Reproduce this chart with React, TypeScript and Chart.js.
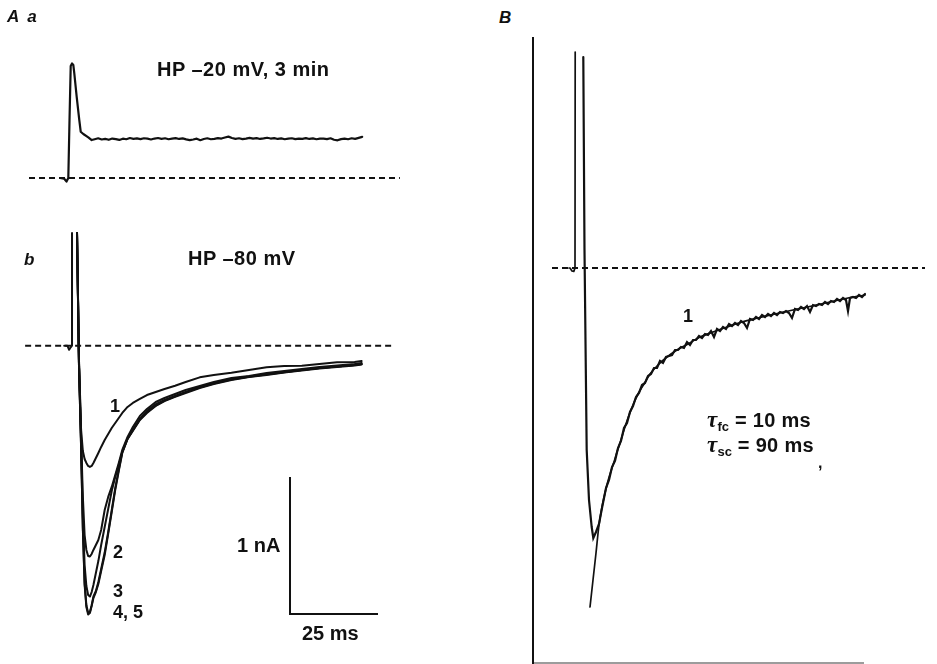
import React, { useEffect, useRef } from 'react';
import { Chart, registerables } from 'chart.js';

Chart.register(...registerables);

// ---------- Panel A a : HP -20 mV, 3 min (time ms, current nA) ----------
const aaTime = [
  -0.85, 0.28, 1.0, 1.51, 1.85, 2.19, 2.56, 2.93, 3.21, 3.89, 4.63, 5.03, 5.77, 7.19, 8.15,
  9, 10, 11, 12, 13, 14, 15, 16, 17, 18, 19, 20, 21, 22, 23, 24, 25, 26, 27, 28, 29, 30,
  31, 32, 33, 34, 35, 36, 37, 38, 39, 40, 41, 42, 43, 44, 45, 46, 47, 48, 49, 50,
  51, 52, 53, 54, 55, 56, 57, 58, 59, 60, 61, 62, 63, 64, 65, 66, 67, 68, 69, 70,
  71, 72, 73, 74, 75, 76, 77, 78, 79, 80, 81, 82, 83, 84, 85,
];
const aaCurrent = [
  0, -0.004, -0.026, 0, 0.423, 0.818, 0.836, 0.825, 0.764, 0.593, 0.423, 0.338, 0.321, 0.297, 0.277,
  0.283, 0.29, 0.281, 0.286, 0.279, 0.288, 0.284, 0.278, 0.287, 0.283, 0.292, 0.286, 0.289, 0.284, 0.29, 0.287, 0.281, 0.288, 0.292, 0.286, 0.29, 0.283,
  0.287, 0.291, 0.285, 0.289, 0.282, 0.276, 0.281, 0.287, 0.276, 0.285, 0.29, 0.283, 0.286, 0.291, 0.288, 0.296, 0.302, 0.292, 0.286, 0.29,
  0.284, 0.288, 0.293, 0.287, 0.291, 0.285, 0.289, 0.294, 0.288, 0.291, 0.285, 0.289, 0.283, 0.287, 0.29, 0.284, 0.288, 0.286, 0.291, 0.285,
  0.289, 0.283, 0.287, 0.287, 0.284, 0.29, 0.279, 0.275, 0.284, 0.288, 0.283, 0.29, 0.286, 0.293, 0.3,
];
const aaBaselineTime = [-9.66, 95.7];
const aaBaselineCurrent = [0, 0];

// ---------- Panel A b : HP -80 mV, traces 1-5 ----------
const abArtifactTime = [-2.5, -1.6, -1.1, -0.6, -0.28, -0.28];
const abArtifactCurrent = [0, 0, -0.03, -0.01, 0, 0.823];
const abTime = [
  1.14, 1.7, 2.3, 2.8, 3.3, 3.8, 4.3, 4.8, 5.3, 5.8, 6.5, 7.2, 8, 9, 10, 11, 12, 13, 14,
  15.5, 17, 19, 21, 23.5, 26, 29, 32, 36, 40, 45, 50, 55, 60, 65, 70, 75, 80, 82,
];
const abTrace1 = [
  0.823, -0.104, -0.615, -0.769, -0.827, -0.856, -0.878, -0.885, -0.878, -0.856, -0.82, -0.783, -0.739, -0.688, -0.645, -0.601, -0.564, -0.528, -0.491,
  -0.447, -0.418, -0.389, -0.36, -0.338, -0.316, -0.292, -0.265, -0.231, -0.214, -0.198, -0.177, -0.158, -0.148, -0.146, -0.134, -0.121, -0.119, -0.112,
];
const abTrace2 = [
  0.823, -0.119, -0.666, -1.104, -1.382, -1.491, -1.535, -1.539, -1.52, -1.491, -1.455, -1.418, -1.345, -1.199, -1.104, -1.031, -0.944, -0.856, -0.761,
  -0.666, -0.593, -0.513, -0.462, -0.411, -0.382, -0.353, -0.323, -0.294, -0.265, -0.236, -0.221, -0.199, -0.185, -0.17, -0.155, -0.145, -0.134, -0.126,
];
const abTrace3 = [
  0.823, -0.134, -0.703, -1.236, -1.601, -1.754, -1.82, -1.831, -1.798, -1.747, -1.659, -1.572, -1.455, -1.323, -1.192, -1.061, -0.958, -0.871, -0.776,
  -0.681, -0.615, -0.535, -0.477, -0.426, -0.396, -0.367, -0.338, -0.301, -0.272, -0.243, -0.225, -0.207, -0.192, -0.177, -0.163, -0.152, -0.141, -0.134,
];
const abTrace4 = [
  0.823, -0.148, -0.739, -1.345, -1.747, -1.907, -1.962, -1.951, -1.9, -1.842, -1.798, -1.739, -1.645, -1.528, -1.374, -1.214, -1.053, -0.915, -0.783,
  -0.681, -0.623, -0.542, -0.491, -0.44, -0.404, -0.374, -0.345, -0.309, -0.28, -0.25, -0.228, -0.214, -0.196, -0.181, -0.166, -0.155, -0.145, -0.137,
];
const abTrace5 = [
  0.823, -0.15, -0.745, -1.33, -1.73, -1.895, -1.95, -1.944, -1.895, -1.83, -1.79, -1.725, -1.63, -1.51, -1.36, -1.2, -1.04, -0.905, -0.775,
  -0.676, -0.616, -0.538, -0.486, -0.437, -0.401, -0.369, -0.341, -0.305, -0.276, -0.247, -0.226, -0.21, -0.193, -0.178, -0.163, -0.151, -0.141, -0.133,
];
const abBaselineTime = [-13.6, 91.5];
const abBaselineCurrent = [0, 0];
// scale bar: 1 nA, 25 ms
const scaleBarTime = [61.65, 61.65, 86.65];
const scaleBarCurrent = [-0.958, -1.958, -1.958];

// ---------- Panel B : trace 1 with two-exponential fit ----------
const bArtifactTime = [-3, -2.5, -1.5, -0.6, 0, 0.1];
const bArtifactCurrent = [0, 0, -0.03, -0.035, 0, 2.16];
const bRawTime = [
  4.15, 4.75, 5.85, 7, 8.35, 9.15, 10.5, 12, 13.5,
  15.5, 17, 18.5, 20, 21.5, 23, 24.5, 26, 27.5, 29, 30.5, 32, 33.5, 35, 36.5, 38, 39.5, 41, 42.5, 44,
  45.5, 47, 48.5, 50, 51.5, 53, 54.5, 56, 57.5, 59, 60.5, 62, 63.5, 65, 66.5, 68, 69.5, 71, 72.5, 74,
  75.5, 77, 78.5, 80, 81.5, 83, 84.5, 86, 87.5, 89, 90.5, 92, 93.5, 95, 96.5, 98, 99.5, 101, 102.5, 104,
  105.5, 107, 108.5, 110, 111.5, 113, 114.5, 116, 117.5, 119, 120.5, 122, 123.5, 125, 126.5, 128, 129.5, 131, 132.5, 134,
  135.5, 136.5, 137.5, 139, 140.5, 142, 143.5, 145, 146.5, 148, 149.5, 150.5, 151,
];
const bRawCurrent = [
  2.11, 0.18, -1.82, -2.32, -2.59, -2.7, -2.64, -2.56, -2.4,
  -2.2, -2.12, -1.99, -1.93, -1.8, -1.73, -1.6, -1.55, -1.44, -1.38, -1.29, -1.25, -1.17, -1.15, -1.08, -1.06, -1.0, -1.0, -0.93, -0.95,
  -0.89, -0.88, -0.87, -0.82, -0.82, -0.79, -0.8, -0.74, -0.77, -0.72, -0.72, -0.68, -0.7, -0.66, -0.67, -0.63, -0.69, -0.61, -0.63, -0.59,
  -0.61, -0.56, -0.58, -0.55, -0.57, -0.53, -0.55, -0.6, -0.51, -0.52, -0.49, -0.51, -0.47, -0.49, -0.46, -0.48, -0.45, -0.47, -0.44, -0.45,
  -0.43, -0.45, -0.5, -0.41, -0.42, -0.39, -0.41, -0.38, -0.44, -0.37, -0.38, -0.36, -0.37, -0.34, -0.36, -0.33, -0.34, -0.31, -0.33, -0.3,
  -0.32, -0.43, -0.3, -0.29, -0.3, -0.27, -0.29, -0.26, -0.28, -0.25, -0.26, -0.17, -0.24,
];
const bFitTime = [
  7.5, 9, 10.5, 12, 13.5, 15, 16.5, 18, 19.5, 21, 22.5, 24.5, 26.5, 29, 31.5, 34.5, 37.5,
  41.5, 46, 51, 56.5, 62.5, 69, 76, 83.5, 91.5, 100, 109, 118.5, 127.5, 136.5, 145, 151,
];
const bFitCurrent = [
  -3.39, -3.12, -2.85, -2.57, -2.39, -2.25, -2.13, -2.03, -1.94, -1.84, -1.75, -1.62, -1.5, -1.37, -1.26, -1.16, -1.06,
  -0.97, -0.89, -0.82, -0.76, -0.69, -0.64, -0.59, -0.54, -0.5, -0.46, -0.42, -0.38, -0.34, -0.3, -0.27, -0.24,
];
const bBaselineTime = [-11.5, 175];
const bBaselineCurrent = [0, 0];

const INK = '#111111';
const FONT = '"Liberation Sans", Arial, Helvetica, sans-serif';

function pts(t: number[], v: number[]) {
  return t.map((x, i) => ({ x, y: v[i] }));
}

function hiddenScale(axis: 'x' | 'y', min: number, max: number) {
  return {
    type: 'linear' as const,
    axis,
    position: axis === 'x' ? 'bottom' : 'left',
    display: false,
    min,
    max,
    bounds: 'data' as const,
  };
}

function baseOptions() {
  return {
    animation: false as const,
    responsive: false,
    devicePixelRatio: 1,
    events: [] as any[],
    plugins: { legend: { display: false }, tooltip: { enabled: false }, title: { display: false } },
    elements: {
      point: { radius: 0, hoverRadius: 0 },
      line: { borderColor: INK, borderWidth: 2, tension: 0, fill: false, borderJoinStyle: 'round' as const, borderCapStyle: 'round' as const },
    },
  };
}

function Label(props: { x: number; base: number; size?: number; italic?: boolean; spacing?: number; children: React.ReactNode }) {
  const size = props.size ?? 20;
  return (
    <div
      style={{
        position: 'absolute',
        left: props.x,
        top: props.base - 0.8465 * size,
        fontSize: size,
        lineHeight: `${size}px`,
        fontFamily: FONT,
        fontWeight: 700,
        fontStyle: props.italic ? 'italic' : 'normal',
        letterSpacing: props.spacing ?? 0,
        color: INK,
        whiteSpace: 'nowrap',
      }}
    >
      {props.children}
    </div>
  );
}

const tauStyle: React.CSSProperties = { fontFamily: '"Liberation Serif", "Times New Roman", serif', fontStyle: 'italic', fontWeight: 700, fontSize: 23 };
const subStyle: React.CSSProperties = { fontSize: 13, position: 'relative', top: 4, letterSpacing: 0 };

export default function App() {
  const aRef = useRef<HTMLCanvasElement>(null);
  const bRef = useRef<HTMLCanvasElement>(null);

  useEffect(() => {
    const dashed = { borderDash: [6, 4], borderWidth: 2, borderCapStyle: 'butt' as const };
    const chartA = new Chart(aRef.current as HTMLCanvasElement, {
      type: 'line',
      data: {
        datasets: [
          { data: pts(aaBaselineTime, aaBaselineCurrent), xAxisID: 'xAa', yAxisID: 'yAa', ...dashed },
          { data: pts(aaTime, aaCurrent), xAxisID: 'xAa', yAxisID: 'yAa', borderWidth: 2.2 },
          { data: pts(abBaselineTime, abBaselineCurrent), xAxisID: 'xAb', yAxisID: 'yAb', ...dashed },
          { data: pts(abArtifactTime, abArtifactCurrent), xAxisID: 'xAb', yAxisID: 'yAb', borderWidth: 2 },
          { data: pts(abTime, abTrace1), xAxisID: 'xAb', yAxisID: 'yAb', borderWidth: 2 },
          { data: pts(abTime, abTrace2), xAxisID: 'xAb', yAxisID: 'yAb', borderWidth: 2 },
          { data: pts(abTime, abTrace3), xAxisID: 'xAb', yAxisID: 'yAb', borderWidth: 2 },
          { data: pts(abTime, abTrace4), xAxisID: 'xAb', yAxisID: 'yAb', borderWidth: 2 },
          { data: pts(abTime, abTrace5), xAxisID: 'xAb', yAxisID: 'yAb', borderWidth: 2 },
          { data: pts(scaleBarTime, scaleBarCurrent), xAxisID: 'xAb', yAxisID: 'yAb', borderWidth: 2, borderCapStyle: 'butt', borderJoinStyle: 'miter' },
        ] as any,
      },
      options: {
        ...baseOptions(),
        layout: { padding: 0 },
        scales: {
          xAa: hiddenScale('x', -17.898, 101.42),
          yAa: hiddenScale('y', -3.5474, 1.2993),
          xAb: hiddenScale('x', -20.739, 98.58),
          yAb: hiddenScale('y', -2.3234, 2.5234),
        } as any,
      } as any,
    });

    const chartB = new Chart(bRef.current as HTMLCanvasElement, {
      type: 'line',
      data: {
        datasets: [
          { data: pts(bBaselineTime, bBaselineCurrent), clip: false, ...dashed },
          { data: pts(bArtifactTime, bArtifactCurrent), clip: false, borderWidth: 1.7 },
          { data: pts(bRawTime, bRawCurrent), clip: false, borderWidth: 2.2, borderJoinStyle: 'miter' },
          { data: pts(bFitTime, bFitCurrent), clip: false, borderWidth: 1.7, tension: 0.3 },
        ] as any,
      },
      options: {
        ...baseOptions(),
        layout: { padding: { left: 10, top: 8, right: 74, bottom: 1 } },
        scales: {
          x: {
            type: 'linear',
            position: 'bottom',
            min: -21,
            max: 144,
            bounds: 'data',
            ticks: { display: false },
            grid: { display: false, drawTicks: false },
            border: { display: true, color: '#9c9c9c', width: 2 },
          },
          y: {
            type: 'linear',
            position: 'left',
            min: -3.95,
            max: 2.3,
            bounds: 'data',
            ticks: { display: false },
            grid: { display: false, drawTicks: false },
            border: { display: true, color: INK, width: 2 },
          },
        } as any,
      } as any,
    });

    return () => {
      chartA.destroy();
      chartB.destroy();
    };
  }, []);

  return (
    <div style={{ position: 'absolute', left: 0, top: 0, width: 937, height: 664, background: '#ffffff', overflow: 'hidden' }}>
      <canvas ref={aRef} width={420} height={664} style={{ position: 'absolute', left: 0, top: 0, width: 420, height: 664 }} />
      <canvas ref={bRef} width={414} height={634} style={{ position: 'absolute', left: 523, top: 30, width: 414, height: 634 }} />

      <Label x={7} base={22} size={17} italic>
        A<span style={{ marginLeft: 8 }}>a</span>
      </Label>
      <Label x={157} base={76} spacing={0.5}>HP –20 mV, 3 min</Label>

      <Label x={24} base={265} size={17} italic>b</Label>
      <Label x={188} base={265} spacing={0.5}>HP –80 mV</Label>
      <Label x={110} base={412} size={18}>1</Label>
      <Label x={113} base={558} size={18}>2</Label>
      <Label x={113} base={597} size={18}>3</Label>
      <Label x={113} base={618} size={18}>4, 5</Label>
      <Label x={237} base={552}>1 nA</Label>
      <Label x={302} base={640}>25 ms</Label>

      <Label x={499} base={23} size={17} italic>B</Label>
      <Label x={683} base={322} size={18}>1</Label>
      <Label x={707} base={427} spacing={0.3}>
        <span style={tauStyle}>τ</span>
        <span style={subStyle}>fc</span> = 10 ms
      </Label>
      <Label x={707} base={452} spacing={0.3}>
        <span style={tauStyle}>τ</span>
        <span style={subStyle}>sc</span> = 90 ms
      </Label>
      <Label x={818} base={469} size={16}>,</Label>
    </div>
  );
}
